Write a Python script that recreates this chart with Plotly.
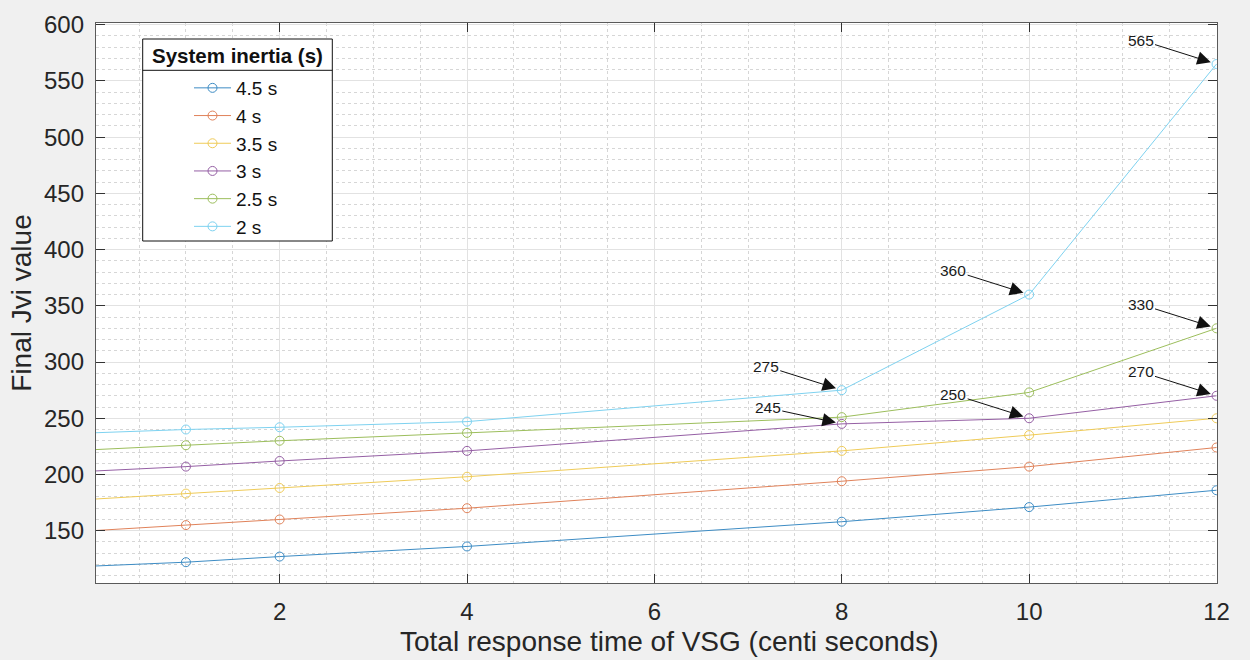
import plotly.graph_objects as go

# Total response time of the VSG (centi seconds)
response_time = [0, 1, 2, 4, 8, 10, 12]

# Final Jvi value for each system inertia setting
inertia_labels = ["4.5 s", "4 s", "3.5 s", "3 s", "2.5 s", "2 s"]
jvi_h45 = [118.5, 122, 127, 136, 158, 171, 186]
jvi_h40 = [150, 155, 160, 170, 194, 207, 224]
jvi_h35 = [178, 183, 188, 198, 221, 235, 250]
jvi_h30 = [203, 207, 212, 221, 245, 250, 270]
jvi_h25 = [222, 226, 230, 237, 251, 273, 330]
jvi_h20 = [237, 240, 242, 247, 275, 360, 565]

series = [jvi_h45, jvi_h40, jvi_h35, jvi_h30, jvi_h25, jvi_h20]

# Points called out with an arrow: (series index, index into response_time)
callouts = [(5, 6), (5, 5), (5, 4), (3, 4), (3, 5), (4, 6), (3, 6)]

colors = ["#3d8cc4", "#e0825a", "#efcb58", "#955fa4", "#9cbe5c", "#7ed2f0"]

FONT = "Liberation Sans, Arial, sans-serif"
TXT = "#262626"

# plot-area geometry in pixels (used for the legend frame and titles)
W, H = 1250, 660
ML, MR, MT, MB = 96, 33, 23, 77
PW, PH = W - ML - MR, H - MT - MB


def px_x(px):
    return (px - ML) / PW


def px_y(py):
    return (H - MB - py) / PH


fig = go.Figure()

for name, vals, col in zip(inertia_labels, series, colors):
    # opening stretch of each curve has no marker
    fig.add_trace(go.Scatter(
        x=response_time[:2], y=vals[:2], mode="lines",
        line=dict(color=col, width=1), showlegend=False, hoverinfo="skip",
    ))
    fig.add_trace(go.Scatter(
        x=response_time[1:], y=vals[1:], mode="lines+markers", name=name,
        line=dict(color=col, width=1),
        marker=dict(symbol="circle-open", size=9, color=col, line=dict(width=1, color=col)),
    ))

offsets = {(3, 4): (-74, -16)}
for si, pi in callouts:
    ax, ay = offsets.get((si, pi), (-76, -24))
    yv = series[si][pi]
    fig.add_annotation(
        x=response_time[pi], y=yv, text=f"{yv:g}",
        showarrow=True, ax=ax, ay=ay,
        arrowhead=2, arrowsize=2.7, arrowwidth=1, arrowcolor="#111111",
        standoff=6, font=dict(family=FONT, size=15.5, color="#1a1a1a"),
    )

# x-axis title
fig.add_annotation(
    xref="paper", yref="paper", x=px_x(669), y=px_y(641),
    text="Total response time of VSG (centi seconds)", showarrow=False,
    xanchor="center", yanchor="middle",
    font=dict(family=FONT, size=28, color=TXT),
)

# legend heading
fig.add_annotation(
    xref="paper", yref="paper", x=px_x(237.5), y=px_y(55.5),
    text="<b>System inertia (s)</b>", showarrow=False,
    xanchor="center", yanchor="middle",
    font=dict(family=FONT, size=20.5, color="#111111"),
)

axis_common = dict(
    showline=True, linecolor="#5a5a5a", linewidth=1.3, mirror="ticks",
    ticks="inside", ticklen=9, tickwidth=1, tickcolor="#333333",
    showgrid=True, gridcolor="#e2e2e2", gridwidth=1, zeroline=False,
    tickfont=dict(family=FONT, size=24, color=TXT),
)

fig.update_xaxes(
    **axis_common,
    range=[0.04, 12.005], tick0=0, dtick=2,
    minor=dict(dtick=0.5, tick0=0, showgrid=True, gridcolor="#d6d6d6", griddash="dot", ticks=""),
    ticklabelstandoff=7,
)
fig.update_yaxes(
    **axis_common,
    range=[103.5, 601.5], tick0=0, dtick=50,
    minor=dict(dtick=10, tick0=0, showgrid=True, gridcolor="#d6d6d6", griddash="dot", ticks=""),
    ticklabelstandoff=6,
    title=dict(text="Final Jvi value", font=dict(family=FONT, size=28, color=TXT), standoff=4),
)

# legend frame and the rule under its heading
fig.add_shape(type="rect", xref="paper", yref="paper", layer="above",
              x0=px_x(142.7), x1=px_x(332.3), y0=px_y(241), y1=px_y(39),
              fillcolor="#ffffff", line=dict(color="#111111", width=1))
fig.add_shape(type="line", xref="paper", yref="paper", layer="above",
              x0=px_x(142.7), x1=px_x(332.3), y0=px_y(70.3), y1=px_y(70.3),
              line=dict(color="#111111", width=1))

fig.update_layout(
    width=W, height=H,
    margin=dict(l=ML, r=MR, t=MT, b=MB, autoexpand=False),
    paper_bgcolor="#f0f0f0", plot_bgcolor="#ffffff",
    showlegend=True,
    legend=dict(
        xref="paper", yref="paper",
        x=px_x(143), y=px_y(69), xanchor="left", yanchor="top",
        bgcolor="rgba(0,0,0,0)", borderwidth=0,
        font=dict(family=FONT, size=19, color="#111111"),
        indentation=46, itemwidth=37, tracegroupgap=0,
    ),
)

fig.write_html("out.html")
